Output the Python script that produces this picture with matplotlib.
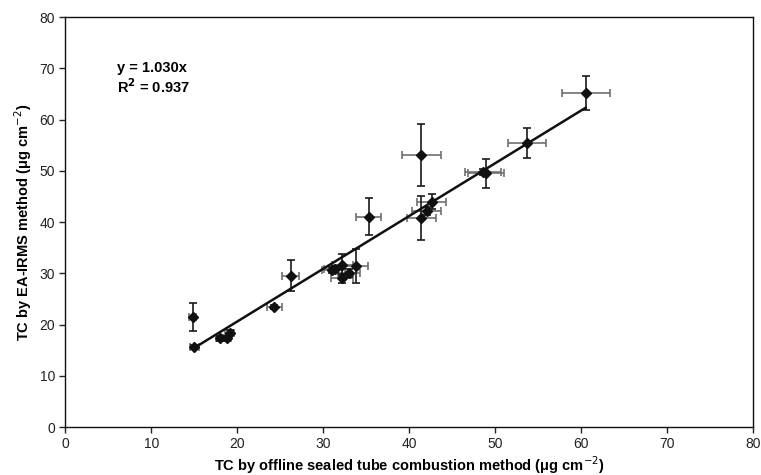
import matplotlib
matplotlib.use("Agg")
import matplotlib.pyplot as plt
import numpy as np

plt.rcParams['font.family'] = ['Liberation Sans', 'DejaVu Sans']

# TC: sealed tube combustion (x) vs EA-IRMS (y), with uncertainties
tc_offline = [14.8, 15.0, 18.0, 18.8, 19.1, 24.3, 26.2, 31.0, 31.3, 32.2, 32.2, 33.0, 33.8,
              35.3, 41.4, 41.4, 42.0, 42.6, 48.6, 48.9, 53.7, 60.5]
tc_eairms = [21.5, 15.7, 17.3, 17.3, 18.4, 23.4, 29.5, 30.6, 30.9, 31.7, 29.0, 30.1, 31.5,
             41.0, 53.1, 40.8, 42.1, 44.0, 49.7, 49.5, 55.4, 65.2]
x_err = [0.45, 0.5, 0.5, 0.5, 0.5, 0.9, 1.0, 1.2, 1.2, 1.2, 1.3, 1.3, 1.4,
         1.45, 2.3, 1.7, 1.7, 1.7, 2.1, 2.1, 2.2, 2.8]
y_err = [2.7, 0.4, 0.5, 0.5, 0.5, 0.4, 3.0, 0.6, 0.6, 2.1, 0.8, 0.8, 3.3,
         3.6, 6.0, 4.3, 0.8, 1.5, 0.6, 2.8, 2.9, 3.4]
slope = 1.030
r2 = 0.937

fig = plt.figure(figsize=(7.61, 4.75), dpi=100)
ax = fig.add_axes([0.0858, 0.101, 0.9042, 0.863])

# horizontal bars in grey, vertical bars in black
ax.errorbar(tc_offline, tc_eairms, xerr=x_err, fmt='none', ecolor='#707070',
            elinewidth=1.2, capsize=3, capthick=1.2, zorder=2)
ax.errorbar(tc_offline, tc_eairms, yerr=y_err, fmt='none', ecolor='#1a1a1a',
            elinewidth=1.2, capsize=3, capthick=1.2, zorder=2)
ax.plot(tc_offline, tc_eairms, 'D', color='#111111', markersize=5.5, zorder=3)

fit_x = np.array([min(tc_offline) + 0.3, max(tc_offline)])
ax.plot(fit_x, slope * fit_x, color='#111111', linewidth=1.8, zorder=4)

ax.text(6.0, 70, 'y = %.3fx' % slope, fontsize=10.5, fontweight='bold', va='center')
ax.text(6.0, 66.4, 'R$^\\mathbf{2}$ = %.3f' % r2, fontsize=10.5, fontweight='bold', va='center')

ax.set_xlim(0, 80)
ax.set_ylim(0, 80)
ax.set_xticks(range(0, 81, 10))
ax.set_yticks(range(0, 81, 10))
ax.tick_params(direction='out', length=4, width=1, labelsize=10, colors='#222222')
for s in ax.spines.values():
    s.set_linewidth(1)
    s.set_color('#111111')

ax.set_xlabel('TC by offline sealed tube combustion method (\u03bcg cm$^{-2}$)',
              fontsize=10.5, fontweight='bold', labelpad=2)
ax.set_ylabel('TC by EA-IRMS method (\u03bcg cm$^{-2}$)',
              fontsize=10.5, fontweight='bold', labelpad=4)

fig.savefig('out.png', dpi=100)
